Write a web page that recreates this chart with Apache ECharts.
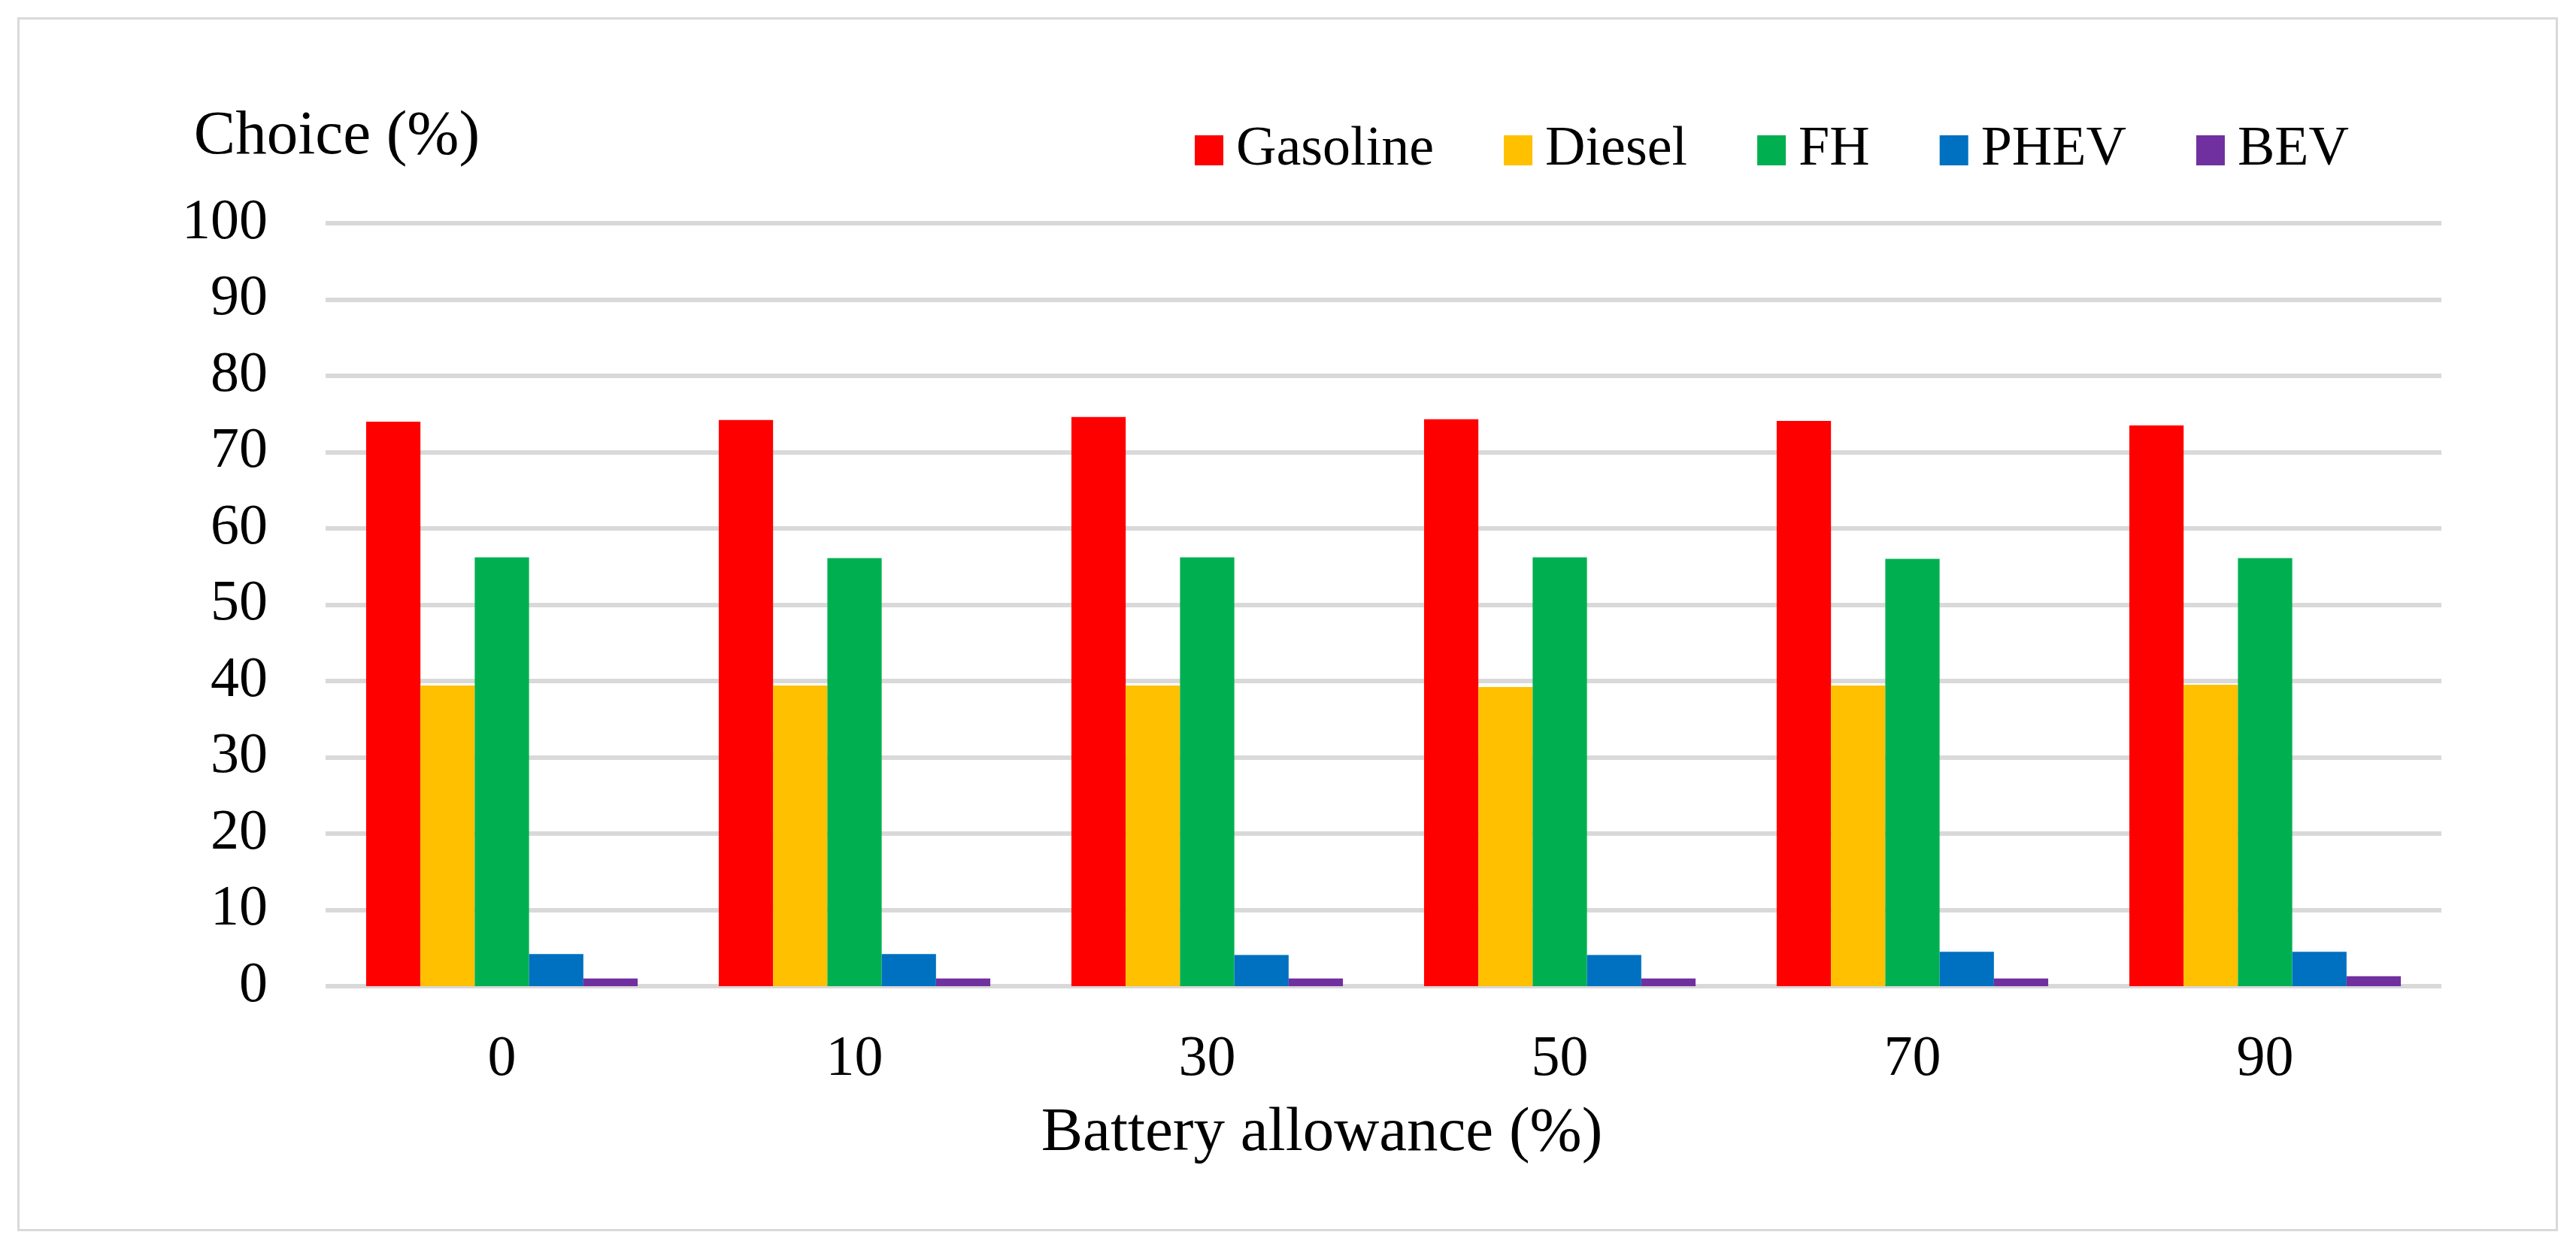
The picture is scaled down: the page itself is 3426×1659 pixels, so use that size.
<!DOCTYPE html>
<html>
<head>
<meta charset="utf-8">
<script src="https://cdn.jsdelivr.net/npm/echarts@6/dist/echarts.min.js"></script>
<style>
html,body{margin:0;padding:0;background:#fff;}
#chart{width:3426px;height:1659px;}
</style>
</head>
<body>
<div id="chart"></div>
<script>
const categories = ['0', '10', '30', '50', '70', '90'];
const seriesNames = ['Gasoline', 'Diesel', 'FH', 'PHEV', 'BEV'];
const gasoline = [74.0, 74.2, 74.6, 74.3, 74.1, 73.5];
const diesel = [39.4, 39.4, 39.4, 39.2, 39.4, 39.5];
const fh = [56.2, 56.1, 56.2, 56.2, 56.0, 56.1];
const phev = [4.2, 4.2, 4.1, 4.1, 4.5, 4.5];
const bev = [1.0, 1.0, 1.0, 1.0, 1.0, 1.3];
const colors = ['#FF0000', '#FFC000', '#00B050', '#0070C0', '#7030A0'];
const yTicks = { min: 0, max: 100, interval: 10 };

const FONT = '"Liberation Serif", "Times New Roman", serif';
const chart = echarts.init(document.getElementById('chart'), null, { renderer: 'canvas' });
const dataSets = [gasoline, diesel, fh, phev, bev];

chart.setOption({
  backgroundColor: '#ffffff',
  animation: false,
  color: colors,
  graphic: [{
    type: 'rect',
    left: 22, top: 22,
    shape: { width: 3376, height: 1612 },
    style: { fill: 'none', stroke: '#D9D9D9', lineWidth: 3 },
    silent: true
  }],
  legend: {
    left: 1584,
    top: 158,
    itemWidth: 38,
    itemHeight: 40,
    itemGap: 93,
    icon: 'rect',
    data: seriesNames,
    textStyle: { fontFamily: FONT, fontSize: 74, color: '#000', padding: [0, 0, 0, 12] }
  },
  grid: { left: 433, right: 179, top: 297, bottom: 347, containLabel: false },
  xAxis: {
    type: 'category',
    data: categories,
    axisLine: { show: false },
    axisTick: { show: false },
    axisLabel: { fontFamily: FONT, fontSize: 76, color: '#000', margin: 60 },
    name: 'Battery allowance (%)',
    nameLocation: 'middle',
    nameGap: 155,
    nameTextStyle: { fontFamily: FONT, fontSize: 83, color: '#000', padding: [0, 164, 0, 0] }
  },
  yAxis: {
    type: 'value',
    min: yTicks.min,
    max: yTicks.max,
    interval: yTicks.interval,
    axisLine: { show: false },
    axisTick: { show: false },
    splitLine: { show: true, lineStyle: { color: '#D9D9D9', width: 6 } },
    axisLabel: { fontFamily: FONT, fontSize: 76, color: '#000', margin: 77 },
    name: 'Choice (%)',
    nameLocation: 'end',
    nameGap: 73,
    nameTextStyle: { fontFamily: FONT, fontSize: 83, color: '#000', align: 'center', padding: [0, 0, 0, 30] }
  },
  series: seriesNames.map((n, i) => ({
    name: n,
    type: 'bar',
    data: dataSets[i],
    barGap: '0%',
    barCategoryGap: '23%',
    itemStyle: { color: colors[i] }
  }))
});
</script>
</body>
</html>
